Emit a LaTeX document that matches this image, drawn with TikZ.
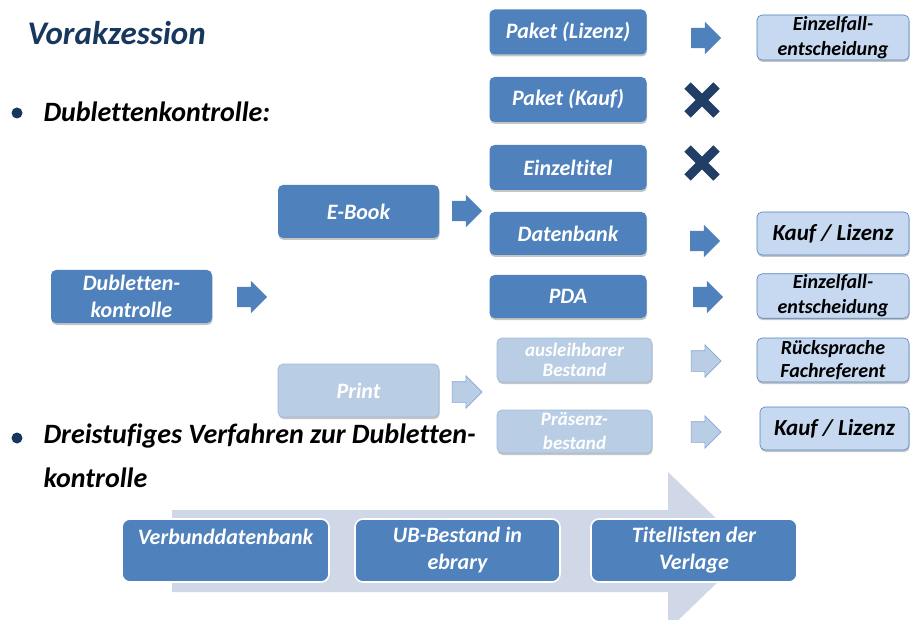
\documentclass[tikz,border=0pt]{standalone}
\usepackage{fontspec}
\setmainfont{Carlito}[Ligatures=NoCommon]
\usetikzlibrary{positioning, shapes.arrows, shapes.misc, shadows}
\definecolor{boxblue}{HTML}{4F81BD}
\definecolor{paleblue}{HTML}{B9CDE5}
\definecolor{resblue}{HTML}{C6D9F1}
\definecolor{navy}{HTML}{17375E}
\definecolor{crossblue}{HTML}{213F66}
\definecolor{bandgray}{HTML}{D0D8E8}
\newcommand{\boxfont}{\bfseries\itshape\fontsize{22}{27}\selectfont}
\tikzstyle{BlockArrow} = [
%block arrow between the boxes:
single arrow, single arrow head extend=6pt,
minimum height=30pt, inner xsep=0pt, inner ysep=10pt,
fill=boxblue, draw=none
]
\tikzstyle{PaleArrow} = [BlockArrow, fill=paleblue, draw=boxblue!70, line width=0.6pt]

\begin{document}
\begin{tikzpicture}[x=1pt, y=-1pt,
			mainbox/.style = {rectangle, rounded corners=5pt, fill=boxblue, text=white, font=\boxfont, align=center, inner sep=1pt, minimum width=157pt, minimum height=45pt, drop shadow={shadow xshift=0.6pt, shadow yshift=-2pt, fill=black!45}},
			palebox/.style = {mainbox, fill=paleblue, draw=boxblue!55, line width=0.6pt},
			resultbox/.style = {mainbox, fill=resblue, draw=boxblue, line width=0.6pt, text=black, minimum width=152pt},
			stepbox/.style = {rectangle, rounded corners=8pt, fill=boxblue, draw=white, line width=1.6pt, text=white, font=\boxfont, align=center, minimum height=63pt},
			nomark/.style = {cross out, draw=crossblue, line width=9pt, minimum size=20pt},
			dot/.style = {circle, fill=navy, inner sep=0pt, minimum size=11pt},
			bullettext/.style = {anchor=base west, font=\bfseries\itshape\fontsize{28}{35}\selectfont, align=left},
		]
		\useasboundingbox (0,0) rectangle (910,620);

		% big gray arrow behind the three steps
		\begin{scope}
			\clip (0,0) rectangle (910,620);
			\fill[bandgray] (172,510) -- (668,510) -- (668,472) -- (750,551) -- (668,630) -- (668,592) -- (172,592) -- cycle;
		\end{scope}

		\node[anchor=base west, text=navy, font=\bfseries\itshape\fontsize{33}{38}\selectfont] (title) at (24,45) {Vorakzession};

		\node[dot] (d1) at (17,113) {};
		\node[bullettext] (b1) at (40,122) {Dublettenkontrolle:};
		\node[dot] (d2) at (17,438) {};
		\node[bullettext, anchor=north west] (b2) at (40,420) {Dreistufiges Verfahren zur Dubletten-\\[9pt]kontrolle};

		\node[mainbox, minimum width=161pt, minimum height=53pt] (dubl) at (131.5,296.5) {Dubletten-\\kontrolle};
		\node[mainbox, minimum width=161pt, minimum height=53pt] (ebook) at (358.5,211.5) {E-Book};
		\node[palebox, minimum width=161pt, minimum height=53pt] (print) at (358.5,390.5) {Print};

		\node[mainbox] (pktliz) at (568,32) {Paket (Lizenz)};
		\node[mainbox] (pktkauf) at (568,99.5) {Paket (Kauf)};
		\node[mainbox] (einzel) at (568,167.5) {Einzeltitel};
		\node[mainbox, minimum height=43pt] (daten) at (568,233.5) {Datenbank};
		\node[mainbox, minimum height=43pt] (pda) at (568,296.5) {PDA};
		\node[palebox, minimum width=155pt, minimum height=44pt, font=\bfseries\itshape\fontsize{19}{20}\selectfont] (ausleih) at (574.5,360) {ausleihbarer\\Bestand};
		\node[palebox, minimum width=155pt, minimum height=43pt, font=\bfseries\itshape\fontsize{19}{24}\selectfont] (praesenz) at (574.5,431.5) {Präsenz-\\bestand};

		\node[resultbox, font=\bfseries\itshape\fontsize{20}{25}\selectfont] (res1) at (833,37.5) {Einzelfall-\\entscheidung};
		\node[resultbox, minimum height=43pt, font=\bfseries\itshape\fontsize{23}{27}\selectfont] (res2) at (833,233.5) {Kauf / Lizenz};
		\node[resultbox, minimum height=44pt, font=\bfseries\itshape\fontsize{20}{25}\selectfont] (res3) at (833,296) {Einzelfall-\\entscheidung};
		\node[resultbox, minimum height=44pt, font=\bfseries\itshape\fontsize{20}{23}\selectfont] (res4) at (833,360) {Rücksprache\\Fachreferent};
		\node[resultbox, minimum width=149pt, minimum height=43pt, font=\bfseries\itshape\fontsize{23}{27}\selectfont] (res5) at (834.5,428.5) {Kauf / Lizenz};

		\node[BlockArrow] (a1) at (247,297) {};
		\node[BlockArrow] (a2) at (462,211) {};
		\node[PaleArrow] (a3) at (462,392) {};
		\node[BlockArrow] (a4) at (701,38) {};
		\node[BlockArrow] (a5) at (700,241) {};
		\node[BlockArrow] (a6) at (703,297) {};
		\node[PaleArrow] (a7) at (701,361) {};
		\node[PaleArrow] (a8) at (701,432) {};

		\node[nomark] (x1) at (702,100) {};
		\node[nomark] (x2) at (702,163) {};

		\node[stepbox, minimum width=207pt] (verbund) at (225.5,550.5) {Verbunddatenbank\\\mbox{}};
		\node[stepbox, minimum width=205pt] (ubbest) at (457.5,550.5) {UB-Bestand in\\ebrary};
		\node[stepbox, minimum width=206pt] (verlage) at (694,550.5) {Titellisten der\\Verlage};
	\end{tikzpicture}
\end{document}
